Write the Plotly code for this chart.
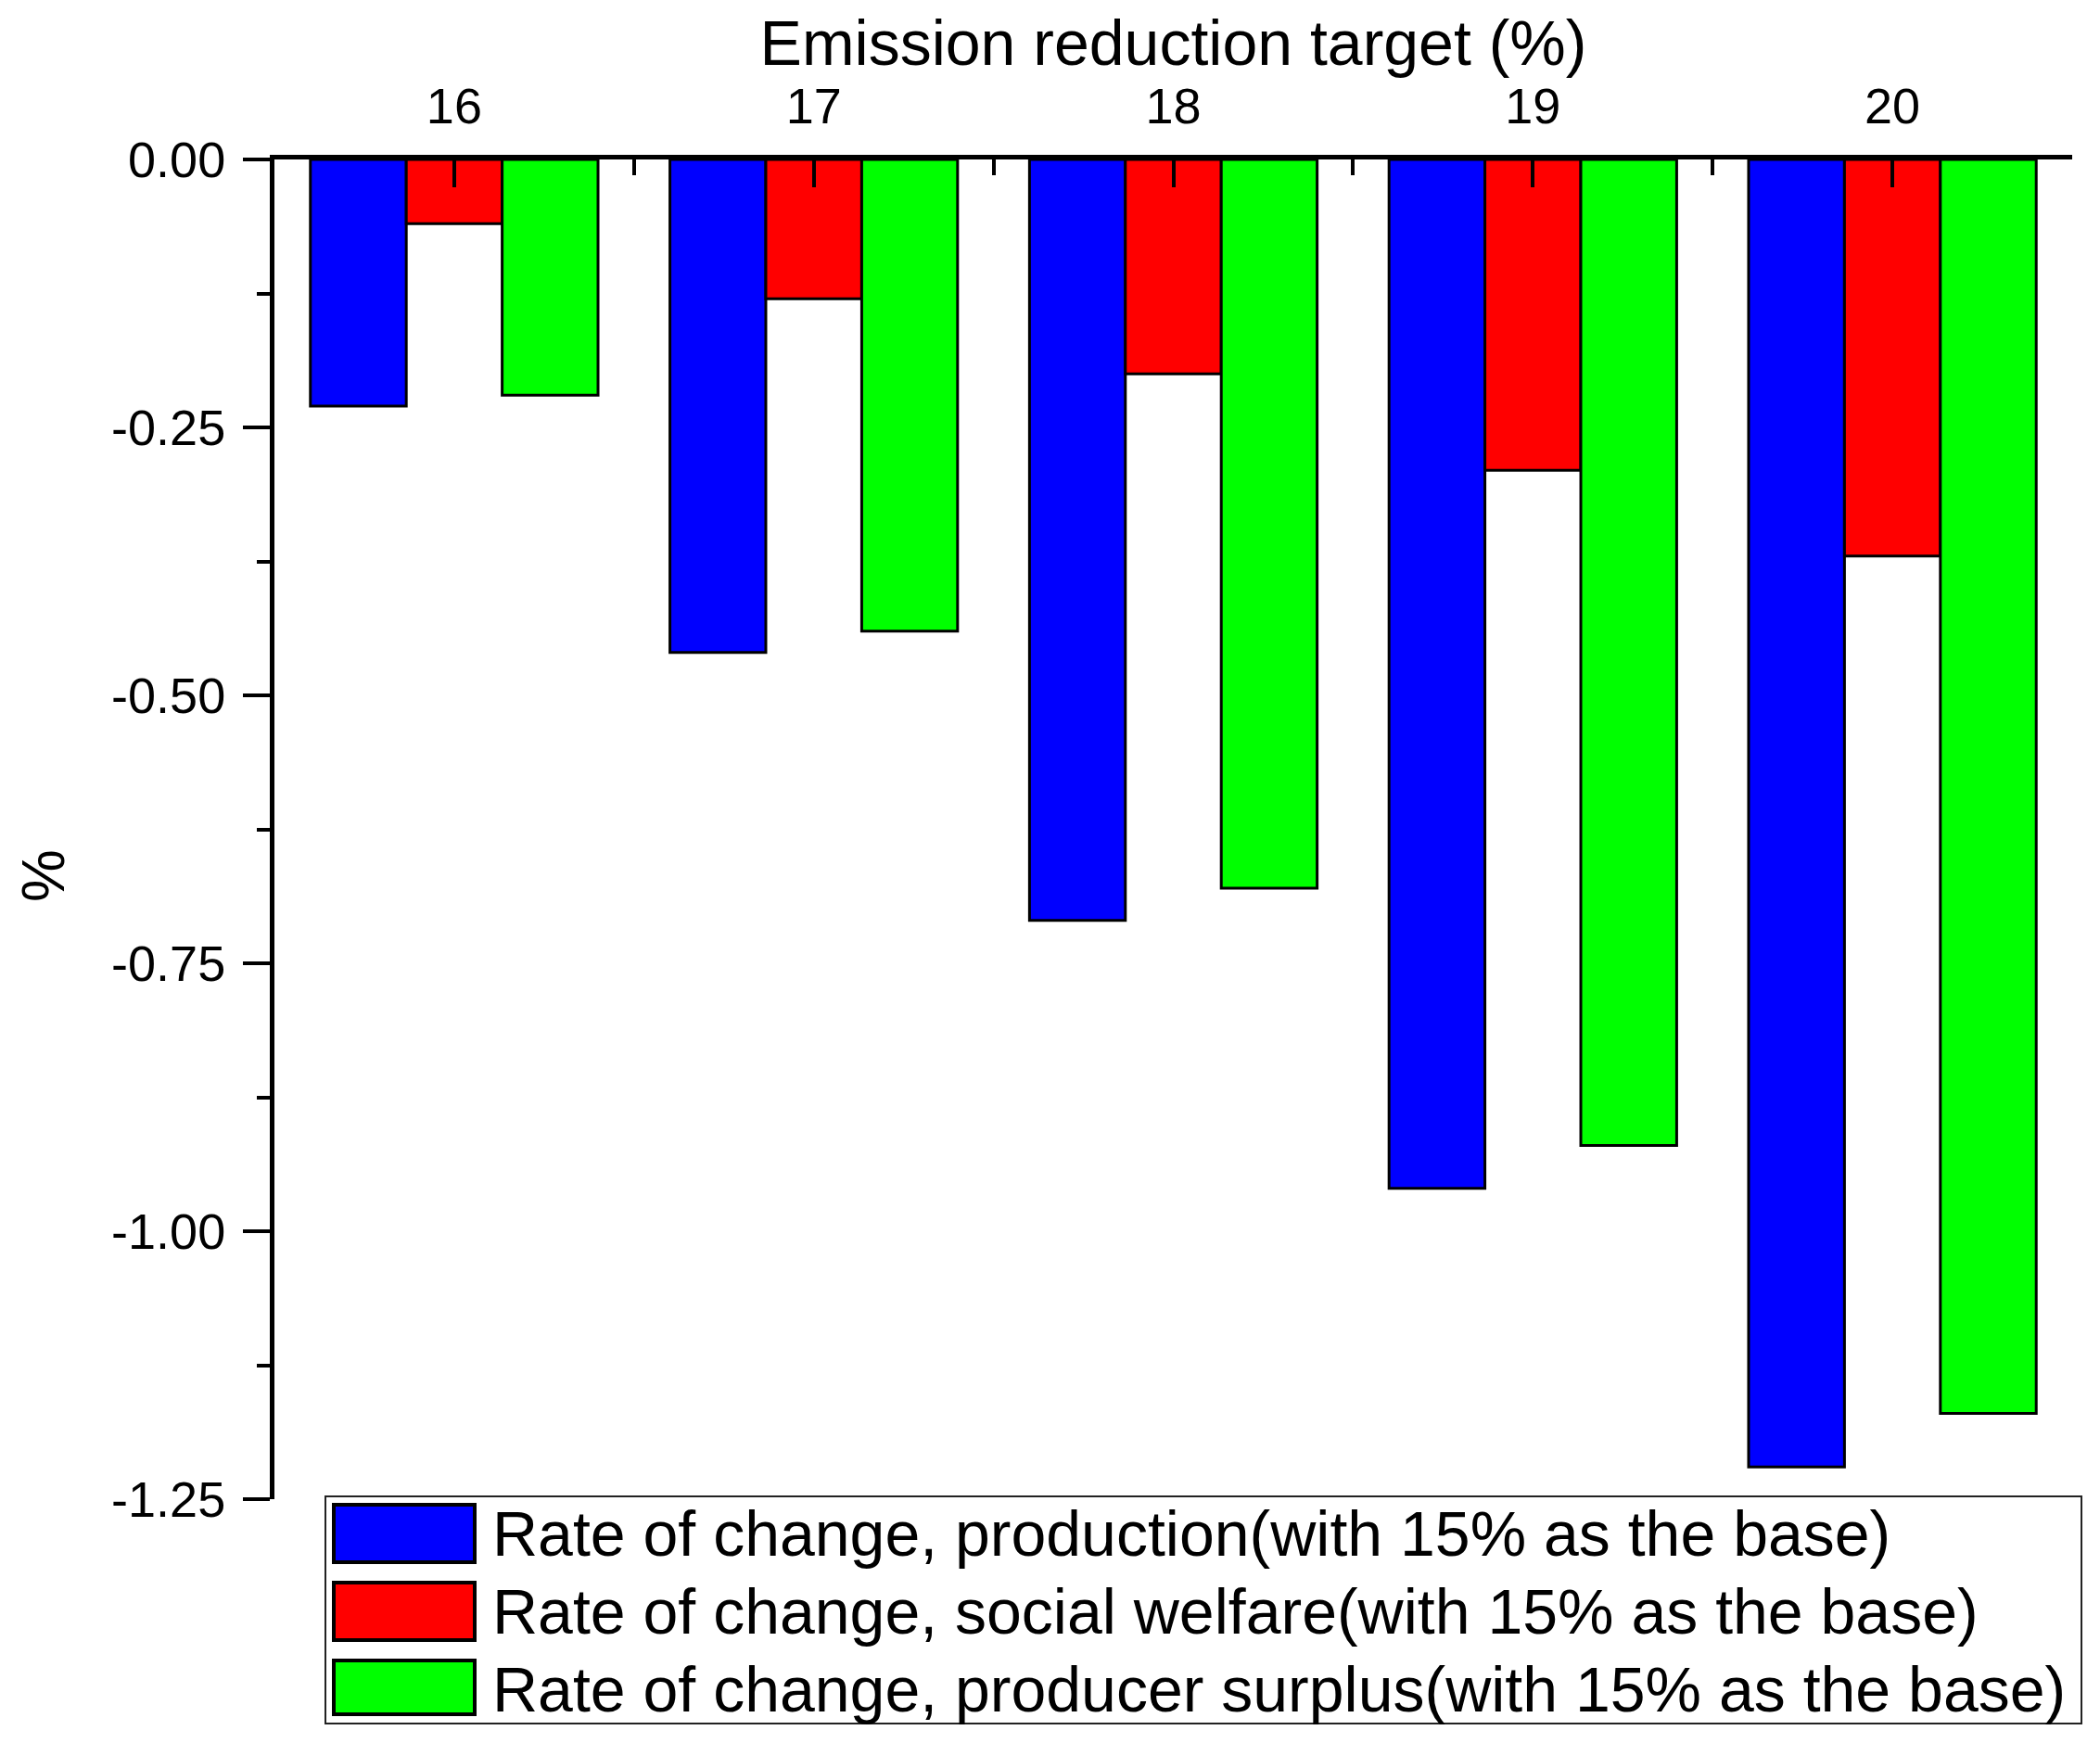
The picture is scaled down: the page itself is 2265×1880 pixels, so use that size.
import plotly.graph_objects as go

targets = [16, 17, 18, 19, 20]
production = [-0.23, -0.46, -0.71, -0.96, -1.22]
social_welfare = [-0.06, -0.13, -0.20, -0.29, -0.37]
producer_surplus = [-0.22, -0.44, -0.68, -0.92, -1.17]
series_names = [
    "Rate of change, production(with 15% as the base)",
    "Rate of change, social welfare(with 15% as the base)",
    "Rate of change, producer surplus(with 15% as the base)",
]
series_colors = ["#0000FF", "#FF0000", "#00FF00"]
y_ticks = [0.0, -0.25, -0.5, -0.75, -1.0, -1.25]

OFF = 8  # page body margin
W, H = 2265 - OFF, 1880 - OFF
L, R, T, B = 288, 30, 164, 263
pw, ph = W - L - R, H - T - B
FONT = "Liberation Sans, Arial, sans-serif"


def px_x(x):  # screen px -> paper
    return (x - OFF - L) / pw


def px_y(y):
    return 1 - (y - OFF - T) / ph


fig = go.Figure()
for vals, name, col in zip([production, social_welfare, producer_surplus], series_names, series_colors):
    fig.add_trace(go.Bar(x=targets, y=vals, name=name,
                         marker=dict(color=col, line=dict(color="black", width=3)),
                         showlegend=False))

shapes = []
annotations = []
shapes.append(dict(type="rect", xref="paper", yref="paper", x0=px_x(351), x1=px_x(2245), y0=px_y(1614), y1=px_y(1859),
                   line=dict(color="#222222", width=2), fillcolor="white", layer="above"))
rows = [(1623, 1685, 1653), (1707, 1769, 1737), (1791, 1849, 1821)]
for (y0, y1, yc), name, col in zip(rows, series_names, series_colors):
    shapes.append(dict(type="rect", xref="paper", yref="paper", x0=px_x(360), x1=px_x(512), y0=px_y(y0), y1=px_y(y1),
                       line=dict(color="black", width=4), fillcolor=col, layer="above"))
    annotations.append(dict(xref="paper", yref="paper", x=px_x(529), y=px_y(yc + 1), text=name, showarrow=False,
                            xanchor="left", yanchor="middle", font=dict(family=FONT, size=68, color="black")))
annotations.append(dict(xref="paper", yref="paper", x=px_x(47), y=px_y(944), text="%", textangle=-90, showarrow=False,
                        xanchor="center", yanchor="middle", font=dict(family=FONT, size=64, color="black")))

fig.update_layout(
    width=W, height=H,
    margin=dict(l=L, r=R, t=T, b=B),
    paper_bgcolor="white", plot_bgcolor="white",
    barmode="group", bargap=0.2, bargroupgap=0,
    font=dict(family=FONT, color="black"),
    shapes=shapes, annotations=annotations,
    xaxis=dict(
        side="top", range=[15.5, 20.5], tickvals=targets, ticktext=[str(t) for t in targets],
        ticks="inside", ticklen=30, tickwidth=4, tickcolor="black",
        showline=True, linewidth=5, linecolor="black", showgrid=False, zeroline=False,
        tickfont=dict(family=FONT, size=54, color="black"), ticklabelstandoff=12,
        minor=dict(tickvals=[16.5, 17.5, 18.5, 19.5, 20.5], ticks="inside", ticklen=17, tickwidth=4, tickcolor="black"),
        title=dict(text="Emission reduction target (%)", font=dict(family=FONT, size=68, color="black"), standoff=16),
    ),
    yaxis=dict(
        range=[-1.25, 0], tickvals=y_ticks, ticktext=["%.2f" % v for v in y_ticks],
        ticks="outside", ticklen=29, tickwidth=4, tickcolor="black",
        showline=True, linewidth=5, linecolor="black", showgrid=False, zeroline=False,
        tickfont=dict(family=FONT, size=54, color="black"), ticklabelstandoff=8,
        minor=dict(tickvals=[-0.125, -0.375, -0.625, -0.875, -1.125], ticks="outside", ticklen=14, tickwidth=4,
                   tickcolor="black"),
    ),
)

fig.write_html("out.html")
